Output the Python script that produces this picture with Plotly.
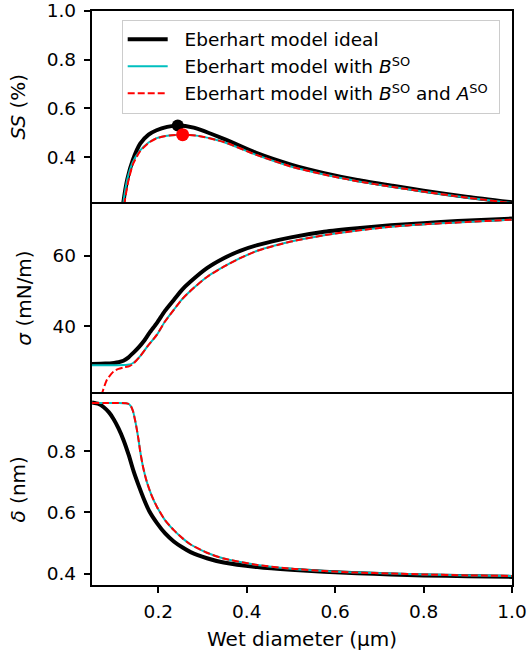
import plotly.graph_objects as go
from plotly.subplots import make_subplots

# ---- data ----
# Supersaturation SS (%)
x_ss_ideal = [0.112, 0.121, 0.13, 0.142, 0.159, 0.178, 0.196, 0.22, 0.244, 0.28, 0.348, 0.42, 0.5, 0.575, 0.65, 0.73, 0.8, 0.9, 1.0]
ss_ideal = [0.05, 0.214, 0.31, 0.386, 0.455, 0.492, 0.51, 0.524, 0.530, 0.521, 0.475, 0.418, 0.369, 0.334, 0.306, 0.282, 0.262, 0.236, 0.214]
x_ss_b = [0.112, 0.121, 0.13, 0.142, 0.159, 0.178, 0.196, 0.225, 0.255, 0.29, 0.348, 0.42, 0.5, 0.575, 0.65, 0.73, 0.8, 0.9, 1.0]
ss_b = [0.05, 0.214, 0.31, 0.378, 0.427, 0.46, 0.478, 0.489, 0.492, 0.487, 0.462, 0.41, 0.361, 0.328, 0.301, 0.277, 0.258, 0.233, 0.211]
x_ss_ba = [0.114, 0.123, 0.132, 0.143, 0.159, 0.178, 0.196, 0.225, 0.255, 0.29, 0.348, 0.42, 0.5, 0.575, 0.65, 0.73, 0.8, 0.9, 1.0]
ss_ba = [0.04, 0.205, 0.30, 0.372, 0.424, 0.458, 0.477, 0.489, 0.492, 0.487, 0.462, 0.41, 0.361, 0.328, 0.301, 0.277, 0.258, 0.233, 0.211]
ss_max_ideal = (0.244, 0.530)
ss_max_ba = (0.255, 0.492)

# Surface tension sigma (mN/m)
x_sig_ideal = [0.05, 0.08, 0.1, 0.11, 0.121, 0.132, 0.144, 0.155, 0.167, 0.18, 0.197, 0.215, 0.235, 0.253, 0.273, 0.31, 0.348, 0.385, 0.424, 0.5, 0.575, 0.65, 0.726, 0.8, 0.877, 1.0]
sig_ideal = [29.4, 29.5, 29.7, 29.9, 30.3, 31.2, 32.6, 34.0, 35.8, 38.2, 41.0, 44.4, 47.5, 50.3, 52.7, 56.5, 59.3, 61.4, 63.0, 65.2, 66.8, 67.8, 68.6, 69.2, 69.8, 70.5]
x_sig_b = [0.05, 0.08, 0.1, 0.121, 0.135, 0.142, 0.15, 0.159, 0.175, 0.197, 0.215, 0.235, 0.253, 0.273, 0.31, 0.348, 0.385, 0.424, 0.5, 0.575, 0.65, 0.726, 0.8, 0.877, 1.0]
sig_b = [29.0, 29.0, 29.05, 29.1, 29.25, 29.6, 30.4, 31.6, 34.3, 37.7, 41.4, 44.7, 47.6, 50.1, 54.0, 56.9, 59.3, 61.4, 64.0, 65.8, 67.1, 68.2, 68.9, 69.4, 70.2]
x_sig_ba = [0.06, 0.068, 0.073, 0.084, 0.099, 0.11, 0.121, 0.135, 0.142, 0.15, 0.159, 0.175, 0.197, 0.215, 0.235, 0.253, 0.273, 0.31, 0.348, 0.385, 0.424, 0.5, 0.575, 0.65, 0.726, 0.8, 0.877, 1.0]
sig_ba = [15.0, 19.0, 21.2, 25.0, 27.3, 28.0, 28.4, 28.8, 29.3, 30.3, 31.6, 34.3, 37.7, 41.4, 44.7, 47.6, 50.1, 54.0, 56.9, 59.3, 61.4, 64.0, 65.8, 67.1, 68.2, 68.9, 69.4, 70.2]

# Thickness delta (nm)
x_del_ideal = [0.05, 0.065, 0.076, 0.088, 0.099, 0.11, 0.121, 0.133, 0.144, 0.155, 0.167, 0.18, 0.197, 0.215, 0.235, 0.255, 0.273, 0.31, 0.348, 0.424, 0.5, 0.575, 0.65, 0.726, 0.8, 0.9, 1.0]
del_ideal = [0.96, 0.955, 0.945, 0.928, 0.905, 0.875, 0.838, 0.788, 0.735, 0.69, 0.645, 0.603, 0.565, 0.532, 0.505, 0.485, 0.47, 0.45, 0.436, 0.421, 0.412, 0.406, 0.401, 0.397, 0.394, 0.391, 0.389]
x_del_b = [0.05, 0.08, 0.11, 0.127, 0.134, 0.139, 0.143, 0.147, 0.151, 0.155, 0.159, 0.166, 0.174, 0.185, 0.197, 0.215, 0.235, 0.255, 0.273, 0.31, 0.348, 0.424, 0.5, 0.575, 0.65, 0.726, 0.8, 0.9, 1.0]
del_b = [0.958, 0.958, 0.958, 0.957, 0.954, 0.945, 0.93, 0.905, 0.875, 0.84, 0.80, 0.745, 0.70, 0.655, 0.618, 0.575, 0.542, 0.515, 0.495, 0.468, 0.449, 0.428, 0.416, 0.408, 0.403, 0.400, 0.397, 0.394, 0.392]
x_del_ba = x_del_b
del_ba = del_b

x_ticks = [0.2, 0.4, 0.6, 0.8, 1.0]

PAD = "\u00a0\u00a0"
labels = [PAD + "Eberhart model ideal",
          PAD + "Eberhart model with <i>B</i><sup>SO</sup>",
          PAD + "Eberhart model with <i>B</i><sup>SO</sup> and <i>A</i><sup>SO</sup>\u00a0"]

FONT = "DejaVu Sans"
fig = make_subplots(rows=3, cols=1, shared_xaxes=True, vertical_spacing=0)

SM = 0.6
black = dict(color="black", width=4, shape="spline", smoothing=SM)
cyan = dict(color="#00bfbf", width=2, shape="spline", smoothing=SM)
red = dict(color="#ff0000", width=2, dash="7px,3px", shape="spline", smoothing=SM)

panels = [
    (1, x_ss_ideal, ss_ideal, x_ss_b, ss_b, x_ss_ba, ss_ba),
    (2, x_sig_ideal, sig_ideal, x_sig_b, sig_b, x_sig_ba, sig_ba),
    (3, x_del_ideal, del_ideal, x_del_b, del_b, x_del_ba, del_ba),
]
for row, xi, yi, xb, yb, xba, yba in panels:
    show = row == 1
    fig.add_trace(go.Scatter(x=xi, y=yi, mode="lines", line=black, name=labels[0],
                             legendgroup="a", showlegend=show), row=row, col=1)
    fig.add_trace(go.Scatter(x=xb, y=yb, mode="lines", line=cyan, name=labels[1],
                             legendgroup="b", showlegend=show), row=row, col=1)
    fig.add_trace(go.Scatter(x=xba, y=yba, mode="lines", line=red, name=labels[2],
                             legendgroup="c", showlegend=show), row=row, col=1)

fig.add_trace(go.Scatter(x=[ss_max_ideal[0]], y=[ss_max_ideal[1]], mode="markers",
                         marker=dict(color="black", size=12), showlegend=False), row=1, col=1)
fig.add_trace(go.Scatter(x=[ss_max_ba[0]], y=[ss_max_ba[1]], mode="markers",
                         marker=dict(color="#ff0000", size=13), showlegend=False), row=1, col=1)

axis_common = dict(linecolor="black", linewidth=1.5,
                   showgrid=False, zeroline=False, tickcolor="black",
                   tickfont=dict(family=FONT, size=18.5, color="black"))

fig.update_xaxes(range=[0.05, 1.0], tickvals=x_ticks, tickformat=".1f", automargin=False, **axis_common)
fig.update_xaxes(ticks="", showticklabels=False, showline=True, mirror=True, row=1, col=1)
fig.update_xaxes(ticks="", showticklabels=False, showline=False, row=2, col=1)
fig.update_xaxes(ticks="outside", ticklen=6.5, tickwidth=1.5, showticklabels=True,
                 showline=True, mirror=True, ticklabelstandoff=3, automargin=True,
                 title=dict(text="Wet diameter (μm)", font=dict(family=FONT, size=20, color="black"), standoff=11),
                 row=3, col=1)

ytitle = dict(family=FONT, size=20, color="black")
fig.update_yaxes(ticks="outside", ticklen=6.5, tickwidth=1.5, showline=True, mirror=True,
                 ticklabelstandoff=4, automargin=True, **axis_common)
fig.update_yaxes(range=[0.214, 1.0], tickvals=[0.4, 0.6, 0.8, 1.0], tickformat=".1f",
                 title=dict(text="<i>SS</i> (%)", font=ytitle, standoff=16), row=1, col=1)
fig.update_yaxes(range=[21.0, 75.1], tickvals=[40, 60],
                 title=dict(text="<i>σ</i> (mN/m)", font=ytitle, standoff=16), row=2, col=1)
fig.update_yaxes(range=[0.3625, 0.9885], tickvals=[0.4, 0.6, 0.8], tickformat=".1f",
                 title=dict(text="<i>δ</i> (nm)", font=ytitle, standoff=16), row=3, col=1)

fig.update_layout(
    width=529, height=655,
    margin=dict(l=92, r=17, t=11, b=70, autoexpand=False),
    paper_bgcolor="white", plot_bgcolor="white",
    font=dict(family=FONT, color="black"),
    legend=dict(x=0.0707, y=0.985, xanchor="left", yanchor="top",
                bgcolor="rgba(255,255,255,0.8)", bordercolor="#cccccc", borderwidth=1,
                font=dict(family=FONT, size=18.5, color="black"),
                itemwidth=40, tracegroupgap=5, traceorder="normal"),
)

fig.write_html("out.html")
